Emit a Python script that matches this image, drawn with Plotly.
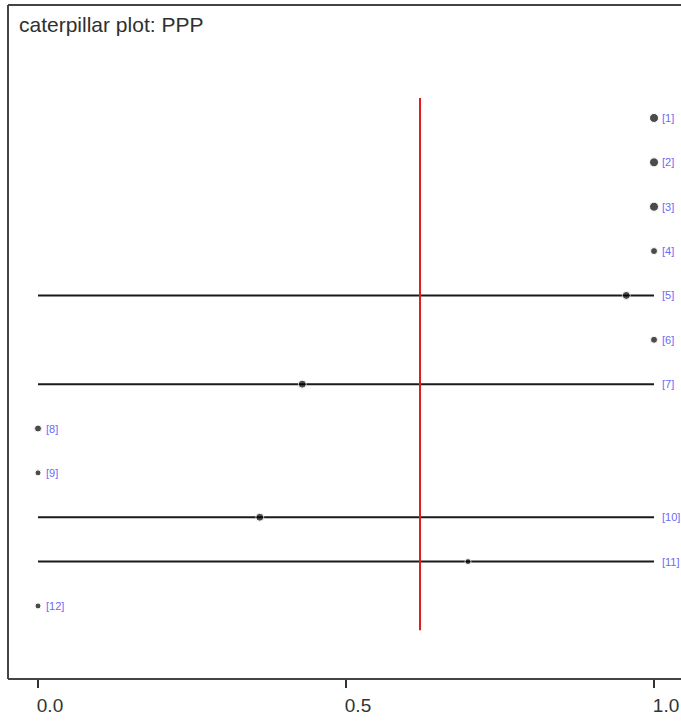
import numpy as np
import plotly.graph_objects as go

# Node labels and posterior summaries for PPP
labels = ["[1]", "[2]", "[3]", "[4]", "[5]", "[6]", "[7]", "[8]", "[9]", "[10]", "[11]", "[12]"]
point = [1.0, 1.0, 1.0, 1.0, 0.955, 1.0, 0.429, 0.0, 0.0, 0.36, 0.698, 0.0]
lower = [1.0, 1.0, 1.0, 1.0, 0.0, 1.0, 0.0, 0.0, 0.0, 0.0, 0.0, 0.0]
upper = [1.0, 1.0, 1.0, 1.0, 1.0, 1.0, 1.0, 0.0, 0.0, 1.0, 1.0, 0.0]
dot_size = [9, 9, 9, 7, 8, 7, 8, 7, 6, 8, 6, 6]
tick_vals = [0.0, 0.5, 1.0]
tick_text = ["0.0", "0.5", "1.0"]

n = len(labels)
pos = list(range(1, n + 1))
overall = float(np.mean(point))

fig = go.Figure()

# interval segments
for i in range(n):
    if upper[i] > lower[i]:
        fig.add_trace(go.Scatter(
            x=[lower[i], upper[i]], y=[pos[i], pos[i]], mode="lines",
            line=dict(color="#1a1a1a", width=2), hoverinfo="skip", showlegend=False))

# overall mean reference line
fig.add_trace(go.Scatter(
    x=[overall, overall], y=[0.55, n + 0.55], mode="lines",
    line=dict(color="#e31a1c", width=2), hoverinfo="skip", showlegend=False))

# point estimates
fig.add_trace(go.Scatter(
    x=point, y=pos, mode="markers",
    marker=dict(color="#000000", size=dot_size), showlegend=False))

# node labels to the right of each interval
for i in range(n):
    fig.add_annotation(
        x=upper[i], y=pos[i], text=labels[i], showarrow=False,
        xanchor="left", yanchor="middle", xshift=6,
        font=dict(family="Liberation Sans, Arial", size=11, color="#6a6af5"))

fig.add_annotation(
    x=0, y=1, xref="paper", yref="paper", text="caterpillar plot: PPP",
    showarrow=False, xanchor="left", yanchor="top", xshift=9, yshift=-6,
    font=dict(family="Liberation Sans, Arial", size=21, color="#303030"))

# box edges (left, top, bottom)
for x0, y0, x1, y1 in [(0, 0, 0, 1), (0, 1, 1, 1), (0, 0, 1, 0)]:
    fig.add_shape(type="line", xref="paper", yref="paper",
                  x0=x0, y0=y0, x1=x1, y1=y1,
                  line=dict(color="#444444", width=2))

fig.update_layout(
    width=681, height=721,
    margin=dict(l=8, r=0, t=5, b=42),
    paper_bgcolor="white", plot_bgcolor="white",
    xaxis=dict(range=[-0.0487, 1.0438], showgrid=False, zeroline=False,
               tickmode="array", tickvals=tick_vals, ticktext=tick_text,
               ticks="outside", ticklen=8, tickwidth=2, tickcolor="#333333",
               ticklabelstandoff=1, ticklabelshift=12,
               tickfont=dict(family="Liberation Sans, Arial", size=19, color="#333333"),
               showline=False),
    yaxis=dict(range=[13.647, -1.547], showgrid=False, zeroline=False,
               showticklabels=False, ticks="", showline=False),
)

fig.write_html("out.html")
